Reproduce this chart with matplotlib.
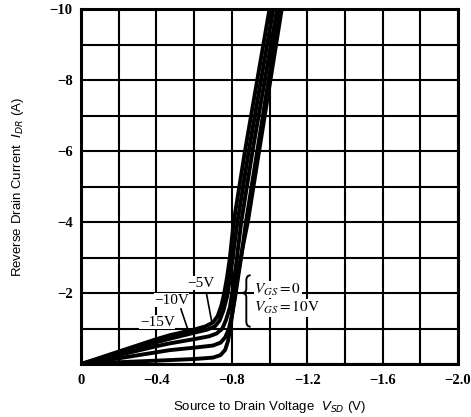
import numpy as np
import matplotlib
matplotlib.use("Agg")
import matplotlib.pyplot as plt
from matplotlib.path import Path
from matplotlib.patches import PathPatch

# Values (magnitudes; the chart's axes are negative)
vsd_m15 = [0, 0.2, 0.4, 0.47, 0.6, 0.66, 0.7, 0.725, 0.745, 0.76, 0.775, 0.79, 0.81, 0.87, 0.935, 1.0]
idr_m15 = [0, 0.35, 0.7, 0.81, 0.97, 1.06, 1.17, 1.35, 1.65, 2.0, 2.45, 3.0, 4.0, 6.0, 8.0, 10.0]
vsd_m10 = [0, 0.2, 0.4, 0.47, 0.6, 0.67, 0.71, 0.735, 0.755, 0.775, 0.79, 0.805, 0.83, 0.89, 0.955, 1.02]
idr_m10 = [0, 0.3, 0.61, 0.71, 0.88, 0.97, 1.06, 1.22, 1.5, 1.9, 2.4, 3.0, 4.0, 6.0, 8.0, 10.0]
vsd_m5 = [0, 0.2, 0.4, 0.47, 0.6, 0.68, 0.72, 0.75, 0.77, 0.79, 0.805, 0.825, 0.85, 0.91, 0.975, 1.04]
idr_m5 = [0, 0.25, 0.5, 0.58, 0.7, 0.78, 0.86, 1.0, 1.25, 1.6, 2.1, 2.9, 4.0, 6.0, 8.0, 10.0]
vsd_0 = [0, 0.2, 0.4, 0.47, 0.6, 0.7, 0.74, 0.765, 0.785, 0.8, 0.815, 0.835, 0.855, 0.875, 0.935, 0.995, 1.055]
idr_0 = [0, 0.16, 0.33, 0.39, 0.46, 0.52, 0.6, 0.75, 1.0, 1.35, 1.8, 2.5, 3.2, 4.0, 6.0, 8.0, 10.0]
vsd_p10 = [0, 0.2, 0.47, 0.6, 0.7, 0.74, 0.765, 0.78, 0.792, 0.802, 0.815, 0.835, 0.858, 0.885, 0.945, 1.005, 1.065]
idr_p10 = [0, 0.05, 0.11, 0.14, 0.18, 0.25, 0.4, 0.65, 1.0, 1.4, 1.9, 2.6, 3.3, 4.0, 6.0, 8.0, 10.0]

curves = [(vsd_m15, idr_m15), (vsd_m10, idr_m10), (vsd_m5, idr_m5),
          (vsd_0, idr_0), (vsd_p10, idr_p10)]

x_major = [0, -0.4, -0.8, -1.2, -1.6, -2.0]
x_labels = ["0", "\u22120.4", "\u22120.8", "\u22121.2", "\u22121.6", "\u22122.0"]
y_major = [0, -2, -4, -6, -8, -10]
y_labels = ["", "\u22122", "\u22124", "\u22126", "\u22128", "\u221210"]

serif = ["Liberation Serif", "DejaVu Serif"]
sans = ["Liberation Sans Narrow", "Liberation Sans", "DejaVu Sans"]

fig = plt.figure(figsize=(4.71, 4.17), dpi=100)
ax = fig.add_axes([81 / 471, 1 - 364 / 417, 377 / 471, 355 / 417])
ax.set_xlim(0, -2.0)
ax.set_ylim(0, -10)

ax.set_xticks(x_major)
ax.set_xticklabels(x_labels, family=serif, fontsize=10.5, fontweight="bold")
ax.set_xticks(np.arange(0, -2.01, -0.2), minor=True)
ax.set_yticks(y_major)
ax.set_yticklabels(y_labels, family=serif, fontsize=10.5, fontweight="bold")
ax.set_yticks(np.arange(0, -10.01, -1), minor=True)
ax.tick_params(which="both", length=0)
ax.tick_params(axis="x", pad=7)
ax.tick_params(axis="y", pad=6)
ax.grid(which="both", color="black", lw=1.5)
ax.set_axisbelow(True)
for s in ax.spines.values():
    s.set_linewidth(2.2)

for v, i in curves:
    ax.plot(-np.array(v), -np.array(i), color="black", lw=2.8,
            solid_joinstyle="round", solid_capstyle="round", zorder=3)

bb = dict(facecolor="white", edgecolor="none", pad=0.3)
ax.text(-0.635, -2.28, "\u22125V", family=serif, fontsize=11, ha="center",
        va="center", bbox=bb, zorder=4)
ax.text(-0.48, -1.8, "\u221210V", family=serif, fontsize=11, ha="center",
        va="center", bbox=bb, zorder=4)
ax.text(-0.405, -1.18, "\u221215V", family=serif, fontsize=11, ha="center",
        va="center", bbox=bb, zorder=4)
ax.plot([-0.665, -0.695], [-2.0, -1.15], color="black", lw=1.2, zorder=4)
ax.plot([-0.53, -0.565], [-1.55, -1.0], color="black", lw=1.2, zorder=4)

# curly brace grouping V_GS = 0 and V_GS = 10V
xe, xs, xt = -0.9, -0.877, -0.852
verts = [(xe, -2.5), (xs, -2.5), (xs, -2.35),
         (xs, -2.12),
         (xs, -2.0), (xt, -2.0),
         (xs, -2.0), (xs, -1.88),
         (xs, -1.2),
         (xs, -1.05), (xe, -1.05)]
codes = [Path.MOVETO, Path.CURVE3, Path.CURVE3,
         Path.LINETO,
         Path.CURVE3, Path.CURVE3,
         Path.CURVE3, Path.CURVE3,
         Path.LINETO,
         Path.CURVE3, Path.CURVE3]
ax.add_patch(PathPatch(Path(verts, codes), facecolor="none",
                       edgecolor="black", lw=1.4, zorder=4))

bt = dict(facecolor="white", edgecolor="none", pad=0.5)
ax.text(-0.92, -2.1, r"$V_{GS}=0$", family=serif, fontsize=11,
        ha="left", va="center", bbox=bt, zorder=4,
        math_fontfamily="stix")
ax.text(-0.92, -1.58, r"$V_{GS}=10\mathrm{V}$", family=serif, fontsize=11,
        ha="left", va="center", bbox=bt, zorder=4,
        math_fontfamily="stix")

ax.set_xlabel(r"Source to Drain Voltage  $V_{SD}$ (V)", family=sans,
              fontsize=9.5, labelpad=9)
ax.set_ylabel(r"Reverse Drain Current  $I_{DR}$ (A)", family=sans,
              fontsize=9.5, labelpad=17)

fig.savefig("out.png", dpi=100)
